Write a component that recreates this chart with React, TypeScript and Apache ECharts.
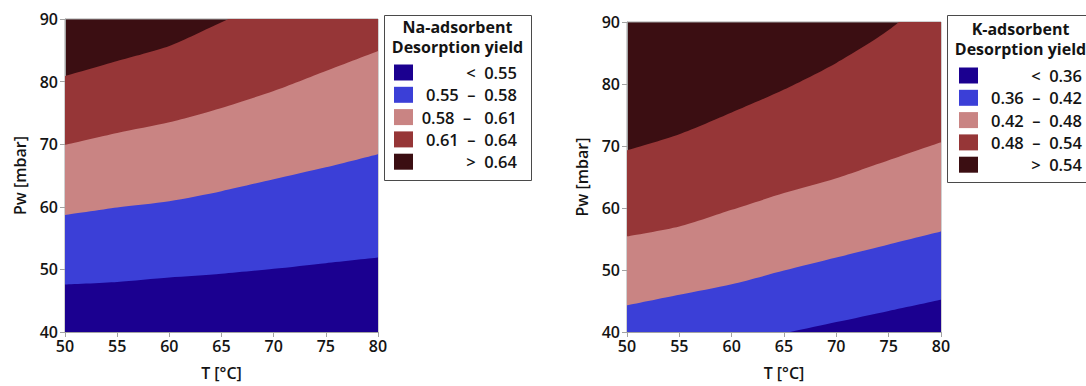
import React, { useEffect, useRef } from "react";
import * as echarts from "echarts";

// Temperature grid (°C) at which the contour boundaries are sampled
const temps = [50, 55, 60, 65, 70, 75, 80];

// Na-adsorbent: water pressure (mbar) along each desorption-yield contour
const naLevel055 = [47.6, 48.0, 48.7, 49.3, 50.1, 51.0, 51.9];
const naLevel058 = [58.7, 59.9, 60.9, 62.5, 64.4, 66.3, 68.4];
const naLevel061 = [69.9, 71.8, 73.5, 75.8, 78.5, 81.7, 84.9];
const naLevel064 = [80.9, 83.3, 85.7, 89.5, 93.2, 97.2, 101.5];

// K-adsorbent: water pressure (mbar) along each desorption-yield contour
const kLevel036 = [34.8, 36.5, 38.2, 39.8, 41.6, 43.4, 45.2];
const kLevel042 = [44.3, 46.0, 47.7, 49.9, 52.0, 54.1, 56.2];
const kLevel048 = [55.4, 57.0, 59.7, 62.4, 64.8, 67.7, 70.6];
const kLevel054 = [69.3, 71.9, 75.4, 79.1, 83.4, 88.7, 95.8];

// Legend entries, lowest band first
const naLegend = ["<  0.55", "0.55  –  0.58", "0.58  –   0.61", "0.61  –  0.64", ">  0.64"];
const kLegend = ["<  0.36", "0.36  –  0.42", "0.42  –  0.48", "0.48  –  0.54", ">  0.54"];

const bandColors = ["#1b0090", "#3b3fd7", "#c98483", "#963637", "#3b0e12"];

const FONT = "Open Sans";
const AXIS_GREY = "#a3a3a3";
const TEXT = "#141414";

const pairs = (ys: number[]) => temps.map((t, i) => [t, ys[i]]);

function bandSeries(levels: number[][], axisIndex: number) {
  // Draw from the highest contour down; each area fills to the axis floor
  // with the colour of the band just below that contour.
  const out: any[] = [];
  for (let k = levels.length - 1; k >= 0; k--) {
    out.push({
      type: "line",
      xAxisIndex: axisIndex,
      yAxisIndex: axisIndex,
      data: pairs(levels[k]),
      smooth: 0.25,
      showSymbol: false,
      silent: true,
      clip: true,
      lineStyle: { width: 0, opacity: 0 },
      areaStyle: { color: bandColors[k], opacity: 1, origin: "start" },
    });
  }
  return out;
}

function legendGraphic(
  title: string,
  entries: string[],
  box: { x: number; y: number; w: number; h: number },
  titleY: number,
  swatchX: number,
  rowY: number,
  labelRight: number
) {
  const children: any[] = [
    {
      type: "rect",
      shape: { x: box.x + 0.5, y: box.y + 0.5, width: box.w, height: box.h },
      style: { fill: "#ffffff", stroke: "#4a4a4a", lineWidth: 1 },
    },
    {
      type: "text",
      x: box.x + box.w / 2,
      y: titleY,
      style: {
        text: title + "\nDesorption yield",
        fontFamily: FONT,
        fontSize: 16,
        fontWeight: "bold",
        fill: TEXT,
        align: "center",
        verticalAlign: "middle",
        lineHeight: 20,
      },
    },
  ];
  entries.forEach((label, i) => {
    const cy = rowY + i * 22.3;
    children.push({
      type: "rect",
      shape: { x: swatchX, y: cy - 8, width: 19, height: 16 },
      style: { fill: bandColors[i] },
    });
    children.push({
      type: "text",
      x: labelRight,
      y: cy,
      style: {
        text: label,
        fontFamily: FONT,
        fontSize: 16.5,
        fontWeight: 600,
        fill: TEXT,
        align: "right",
        verticalAlign: "middle",
      },
    });
  });
  return { type: "group", children };
}

function axisPair(gridIndex: number) {
  const labelStyle = { fontFamily: FONT, fontSize: 16, fontWeight: 600, color: TEXT };
  const nameStyle = { fontFamily: FONT, fontSize: 16, fontWeight: 600, color: TEXT };
  return {
    x: {
      type: "value",
      gridIndex,
      min: 50,
      max: 80,
      interval: 5,
      name: "T [°C]",
      nameLocation: "middle",
      nameGap: 33,
      nameTextStyle: nameStyle,
      axisLine: { show: true, lineStyle: { color: AXIS_GREY, width: 1 } },
      axisTick: { show: true, length: 5, lineStyle: { color: AXIS_GREY } },
      axisLabel: { ...labelStyle, margin: 6 },
      splitLine: { show: false },
    },
    y: {
      type: "value",
      gridIndex,
      min: 40,
      max: 90,
      interval: 10,
      name: "Pw [mbar]",
      nameLocation: "middle",
      nameGap: 37,
      nameTextStyle: nameStyle,
      axisLine: { show: true, lineStyle: { color: AXIS_GREY, width: 1 } },
      axisTick: { show: true, length: 5, lineStyle: { color: AXIS_GREY } },
      axisLabel: { ...labelStyle, margin: 7 },
      splitLine: { show: false },
    },
  };
}

export default function App() {
  const ref = useRef<HTMLDivElement>(null);

  useEffect(() => {
    if (!ref.current) return;
    const chart = echarts.init(ref.current, undefined, { renderer: "svg" });
    const a0 = axisPair(0);
    const a1 = axisPair(1);

    chart.setOption({
      animation: false,
      backgroundColor: "#ffffff",
      grid: [
        {
          left: 65,
          top: 19,
          width: 313,
          height: 314,
          show: true,
          backgroundColor: bandColors[4],
          borderColor: AXIS_GREY,
          borderWidth: 1,
        },
        {
          left: 627,
          top: 22,
          width: 314,
          height: 313,
          show: true,
          backgroundColor: bandColors[4],
          borderColor: AXIS_GREY,
          borderWidth: 1,
        },
      ],
      xAxis: [a0.x, a1.x],
      yAxis: [a0.y, a1.y],
      series: [
        ...bandSeries([naLevel055, naLevel058, naLevel061, naLevel064], 0),
        ...bandSeries([kLevel036, kLevel042, kLevel048, kLevel054], 1),
      ],
      graphic: [
        legendGraphic("Na-adsorbent", naLegend, { x: 384, y: 15, w: 147, h: 165 }, 37, 394, 72.5, 517),
        legendGraphic("K-adsorbent", kLegend, { x: 947, y: 15, w: 147, h: 167 }, 39, 959, 75.5, 1082),
      ],
    });

    return () => chart.dispose();
  }, []);

  return (
    <div
      ref={ref}
      style={{ position: "absolute", left: 0, top: 0, width: 1086, height: 386 }}
    />
  );
}
